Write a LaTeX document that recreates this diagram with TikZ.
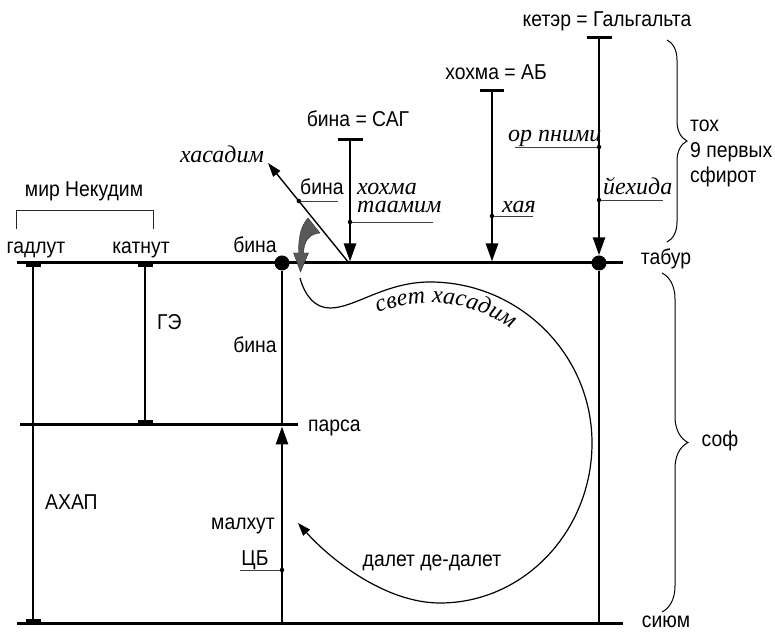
\documentclass[tikz,border=0pt]{standalone}
\usepackage{fontspec}
\setmainfont{Liberation Sans}[FakeStretch=0.9]
\newfontfamily\serifrm{Liberation Serif}
\usetikzlibrary{arrows.meta,decorations.pathreplacing,decorations.text}
\begin{document}
\begin{tikzpicture}[x=1pt,y=1pt,
  font=\fontsize{21.5}{25}\selectfont,
  lbl/.style={inner sep=0pt, anchor=base},
  lblw/.style={inner sep=0pt, anchor=base west},
  itl/.style={inner sep=0pt, anchor=base west, font=\serifrm\itshape\fontsize{24}{27}\selectfont},
  itc/.style={itl, anchor=base},
  mainline/.style={line width=3pt},
  vline/.style={line width=2.6pt},
  capbar/.style={line width=3pt},
  arrowline/.style={vline, -{Triangle[length=18pt,width=12pt]}},
  leader/.style={line width=0.8pt, black!75},
  smalldot/.style={circle, fill=black, inner sep=0pt, minimum size=4.5pt},
  bigdot/.style={circle, fill=black, inner sep=0pt, minimum size=15pt},
  bracestyle/.style={line width=1pt, decorate},
  thincurve/.style={line width=1.2pt},
]
\useasboundingbox (0,0) rectangle (775,631);

% horizontal levels
\coordinate (tabL) at (17,368);
\coordinate (tabR) at (623,368);
\coordinate (parL) at (20,206);
\coordinate (parR) at (298,206);
\coordinate (siyL) at (17,8);
\coordinate (siyR) at (623,8);
\draw[mainline] (tabL) -- (tabR);
\draw[mainline] (parL) -- (parR);
\draw[mainline] (siyL) -- (siyR);

% gadlut vertical
\coordinate (gT) at (33,368);
\coordinate (gB) at (33,8);
\draw[vline] (gT) -- (gB);
\draw[capbar] ([xshift=-7.5pt,yshift=-3pt]gT) -- ([xshift=7.5pt,yshift=-3pt]gT);
\draw[capbar] ([xshift=-7.5pt,yshift=3pt]gB) -- ([xshift=7.5pt,yshift=3pt]gB);

% katnut vertical
\coordinate (kaT) at (145,368);
\coordinate (kaB) at (145,206);
\draw[vline] (kaT) -- (kaB);
\draw[capbar] ([xshift=-7.5pt,yshift=-3pt]kaT) -- ([xshift=7.5pt,yshift=-3pt]kaT);
\draw[capbar] ([xshift=-7.5pt,yshift=3pt]kaB) -- ([xshift=7.5pt,yshift=3pt]kaB);

% bina vertical
\node[bigdot] (binaDot) at (282,368) {};
\coordinate (bP) at (282,206);
\coordinate (bB) at (282,8);
\draw[vline] (binaDot) -- (bP);
\draw[arrowline] (bB) -- ([yshift=-1.5pt]bP);

% keter vertical
\coordinate (kT) at (599,593);
\node[bigdot] (ketDot) at (599,368) {};
\coordinate (kB) at (599,8);
\draw[capbar] ([xshift=-12.5pt]kT) -- ([xshift=12.5pt]kT);
\draw[arrowline] (kT) -- (ketDot.north);
\draw[vline] (ketDot) -- (kB);

% hohma vertical
\coordinate (hT) at (492,540);
\coordinate (hD) at (492,369.5);
\draw[capbar] ([xshift=-12pt]hT) -- ([xshift=12pt]hT);
\draw[arrowline] (hT) -- (hD);

% bina = SAG vertical
\coordinate (sT) at (350,491);
\coordinate (sD) at (350,369.5);
\draw[capbar] ([xshift=-12.5pt]sT) -- ([xshift=12.5pt]sT);
\draw[arrowline] (sT) -- (sD);

% diagonal hasadim arrow
\coordinate (dS) at (349,368);
\coordinate (dE) at (268,468);
\draw[line width=1.4pt, -{Triangle[length=14pt,width=9pt]}] (dS) -- (dE);

% grey blade arrow
\fill[black!65, draw=black!80, line width=0.4pt]
  (308,413) .. controls (301,405) and (298.5,395) .. (298.5,378)
  -- (293.5,378) -- (300.5,359) -- (308.5,378) -- (303.5,378)
  .. controls (304,391) and (310,397) .. (320,398) -- cycle;

% small dots and leaders
\node[smalldot] (dBina) at (298.8,430) {};
\coordinate (lBina) at (338,430);
\draw[leader] (dBina) -- (lBina);
\node[smalldot] (dHT) at (350,409) {};
\coordinate (lHT) at (433,409);
\draw[leader] (dHT) -- (lHT);
\node[smalldot] (dHaya) at (492,415) {};
\coordinate (lHaya) at (533,415);
\draw[leader] (dHaya) -- (lHaya);
\node[smalldot] (dOr) at (599,484) {};
\coordinate (lOr) at (515,484);
\draw[leader] (lOr) -- (dOr);
\node[smalldot] (dYe) at (599,431) {};
\coordinate (lYe) at (663,431);
\draw[leader] (dYe) -- (lYe);
\node[smalldot] (dCB) at (282,61) {};
\coordinate (lCB) at (240,61);
\draw[leader] (lCB) -- (dCB);

% curve svet hasadim / dalet de-dalet
\coordinate (cS) at (300,353);
\coordinate (cE) at (298,108);
\draw[thincurve, -{Triangle[length=13pt,width=9pt]}]
  (cS) .. controls (305,335) and (315,323) .. (330,323)
  .. controls (355,323) and (385,349) .. (430,349)
  .. controls (519,349) and (592,277) .. (592,188)
  .. controls (592,100) and (524,28) .. (440,28)
  .. controls (385,28) and (330,72) .. (cE);
\path[decorate, decoration={text along path,
    text={|\serifrm\itshape\fontsize{24}{27}\selectfont|свет хасадим},
    text align=left}]
  (378,318) arc[start angle=112, end angle=30, radius=139];

% braces
\draw[bracestyle, decoration={brace, amplitude=20pt}] (667,591) -- (667,389);
\draw[bracestyle, decoration={brace, amplitude=26pt}] (662,358) -- (662,19);

% Nekudim bracket
\coordinate (brL) at (16,402);
\coordinate (brR) at (153,402);
\draw[line width=0.9pt, black!85] (brL) |- ([yshift=19pt]brR) -- (brR);

% labels
\node[lbl] (tKeter) at (607,604) {кетэр = Гальгальта};
\node[lbl] (tHohmaAB) at (496,551) {хохма = АБ};
\node[lbl] (tBinaSAG) at (358,504) {бина = САГ};
\node[lblw] (tToh1) at (690,499) {тох};
\node[lblw] (tToh2) at (690,473) {9 первых};
\node[lblw] (tToh3) at (690,448) {сфирот};
\node[lbl] (tTabur) at (666,366) {табур};
\node[lbl] (tSiyum) at (666,4) {сиюм};
\node[lbl] (tSof) at (720,184) {соф};
\node[lbl] (tNekudim) at (84,434) {мир Некудим};
\node[lbl] (tGadlut) at (36,377) {гадлут};
\node[lbl] (tKatnut) at (141,377) {катнут};
\node[lbl] (tBinaTop) at (255,378) {бина};
\node[lblw] (tGE) at (157,301) {ГЭ};
\node[lbl] (tBinaMid) at (255,278) {бина};
\node[lblw] (tParsa) at (308,199) {парса};
\node[lblw] (tAhap) at (45,121) {АХАП};
\node[lbl] (tMalhut) at (243,101) {малхут};
\node[lbl] (tCB) at (255,66) {ЦБ};
\node[lbl] (tDalet) at (432,64) {далет де-далет};
\node[lblw] (tBinaDiag) at (300,436) {бина};
\node[itc] (tHasadim) at (222,468) {хасадим};
\node[itl] (tHohma) at (357,436) {хохма};
\node[itl] (tTaamim) at (357,418) {таамим};
\node[itl] (tHaya) at (502,418) {хая};
\node[itl] (tOr) at (508,489) {ор пними};
\node[itl] (tYe) at (603,436) {йехида};
\end{tikzpicture}
\end{document}
